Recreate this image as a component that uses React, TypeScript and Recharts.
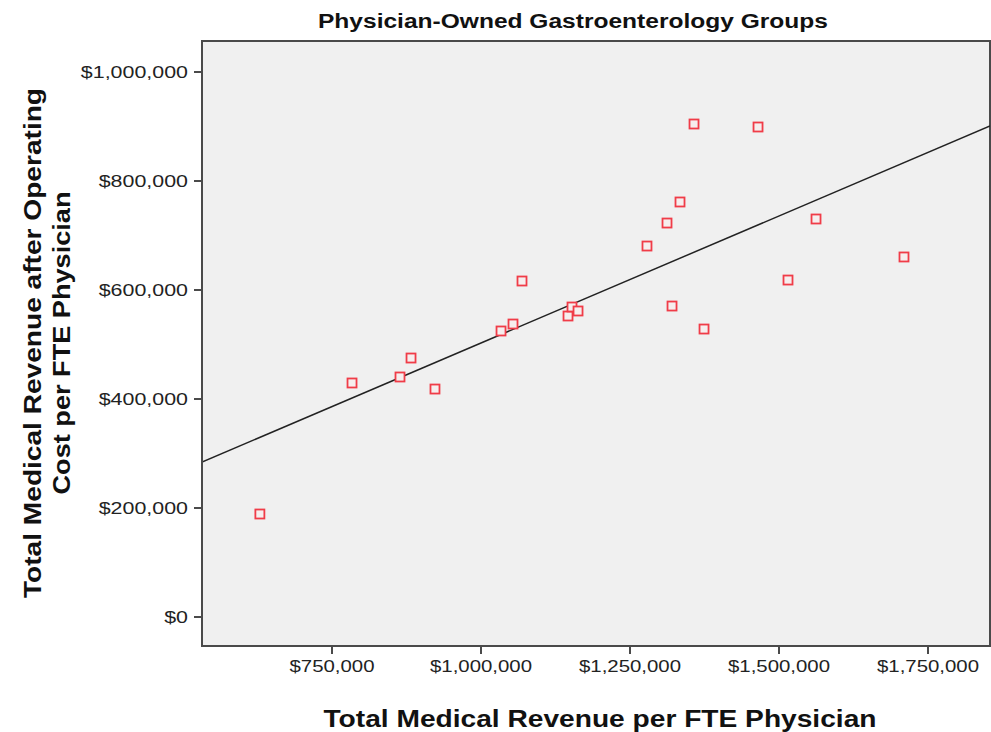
import React from 'react';
import {
  ScatterChart,
  Scatter,
  XAxis,
  YAxis,
  ReferenceArea,
  ReferenceLine,
  Customized,
} from 'recharts';

// Total Medical Revenue per FTE Physician (x)
const revenue = [
  629000, 783600, 864100, 882600, 922800, 1033600, 1053700, 1068800, 1146000,
  1152700, 1162800, 1278500, 1312100, 1320500, 1333900, 1357400, 1374200,
  1464800, 1515100, 1562100, 1709700,
];
// Total Medical Revenue after Operating Cost per FTE Physician (y)
const afterCost = [
  189000, 429400, 440400, 475200, 418300, 524800, 537600, 616500, 552300,
  568800, 561500, 680700, 722900, 570600, 761500, 904600, 528400, 899100,
  618300, 730300, 660600,
];
const xTicks = [750000, 1000000, 1250000, 1500000, 1750000];
const yTicks = [0, 200000, 400000, 600000, 800000, 1000000];
const xDomain = [531900, 1854000];
const yDomain = [-53200, 1056900];
// linear fit line end points (as drawn)
const fitLine = [
  { x: 531900, y: 284400 },
  { x: 1854000, y: 900900 },
];
const rSquared = '0.608';
const title = 'Physician-Owned Gastroenterology Groups';
const xTitle = 'Total Medical Revenue per FTE Physician';
const yTitle1 = 'Total Medical Revenue after Operating';
const yTitle2 = 'Cost per FTE Physician';

const points = revenue.map((x, i) => ({ x, y: afterCost[i] }));
const fmt = (v: number) => '$' + v.toLocaleString('en-US');

const FONT = "'Liberation Sans', Arial, sans-serif";

const XTick = (props: any) => {
  const { x, y, payload } = props;
  return (
    <text
      transform={`translate(${x},${y}) scale(1.2,1)`}
      x={0}
      y={0}
      dy="0.71em"
      textAnchor="middle"
      fontFamily={FONT}
      fontSize={17}
      fill="#222"
    >
      {fmt(payload.value)}
    </text>
  );
};

const YTick = (props: any) => {
  const { x, y, payload } = props;
  return (
    <text
      transform={`translate(${x},${y}) scale(1.26,1)`}
      x={0}
      y={0}
      dy="0.35em"
      textAnchor="end"
      fontFamily={FONT}
      fontSize={17}
      fill="#222"
    >
      {fmt(payload.value)}
    </text>
  );
};

const Square = (props: any) => {
  const { cx, cy } = props;
  return (
    <rect
      x={cx - 4.5}
      y={cy - 4.5}
      width={9}
      height={9}
      fill="#f6eeee"
      stroke="#f03c48"
      strokeWidth={1.8}
    />
  );
};

const Texts = () => (
  <g>
    <text
      x={573}
      y={28}
      textAnchor="middle"
      textLength={510}
      lengthAdjust="spacingAndGlyphs"
      fontFamily={FONT}
      fontWeight="bold"
      fontSize={20}
      fill="#111"
    >
      {title}
    </text>
    <text
      x={600}
      y={727}
      textAnchor="middle"
      textLength={553}
      lengthAdjust="spacingAndGlyphs"
      fontFamily={FONT}
      fontWeight="bold"
      fontSize={23}
      fill="#111"
    >
      {xTitle}
    </text>
    <text
      transform="translate(41,343) rotate(-90)"
      x={0}
      y={0}
      textAnchor="middle"
      textLength={510}
      lengthAdjust="spacingAndGlyphs"
      fontFamily={FONT}
      fontWeight="bold"
      fontSize={23}
      fill="#111"
    >
      {yTitle1}
    </text>
    <text
      transform="translate(70,343) rotate(-90)"
      x={0}
      y={0}
      textAnchor="middle"
      textLength={303}
      lengthAdjust="spacingAndGlyphs"
      fontFamily={FONT}
      fontWeight="bold"
      fontSize={23}
      fill="#111"
    >
      {yTitle2}
    </text>
    <text
      x={815}
      y={612}
      fontFamily={FONT}
      fontSize={17}
      fill="#111"
    >
      <tspan>R</tspan>
      <tspan dy={-7} fontSize={12}>2</tspan>
      <tspan dy={7}>{` Linear = ${rSquared}`}</tspan>
    </text>
  </g>
);

export default function App() {
  return (
    <div style={{ position: 'absolute', left: 0, top: 0, background: '#fff' }}>
      <ScatterChart
        width={991}
        height={732}
        margin={{ top: 41, right: 1, bottom: 0, left: 0 }}
      >
        <ReferenceArea
          x1={xDomain[0]}
          x2={xDomain[1]}
          y1={yDomain[0]}
          y2={yDomain[1]}
          fill="#f0f0f0"
          fillOpacity={1}
          stroke="#4a4a4a"
          strokeWidth={2}
          ifOverflow="visible"
        />
        <XAxis
          type="number"
          dataKey="x"
          domain={xDomain}
          ticks={xTicks}
          allowDataOverflow
          height={86}
          tickSize={8}
          tickMargin={6}
          tick={<XTick />}
          axisLine={{ stroke: '#4a4a4a', strokeWidth: 2 }}
          tickLine={{ stroke: '#4a4a4a', strokeWidth: 2 }}
        />
        <YAxis
          type="number"
          dataKey="y"
          domain={yDomain}
          ticks={yTicks}
          allowDataOverflow
          width={202}
          tickSize={8}
          tickMargin={6}
          tick={<YTick />}
          axisLine={{ stroke: '#4a4a4a', strokeWidth: 2 }}
          tickLine={{ stroke: '#4a4a4a', strokeWidth: 2 }}
        />
        <ReferenceLine
          segment={fitLine}
          stroke="#222"
          strokeWidth={1.5}
          ifOverflow="hidden"
        />
        <Scatter
          data={points}
          shape={<Square />}
          isAnimationActive={false}
        />
        <Customized component={Texts} />
      </ScatterChart>
    </div>
  );
}
